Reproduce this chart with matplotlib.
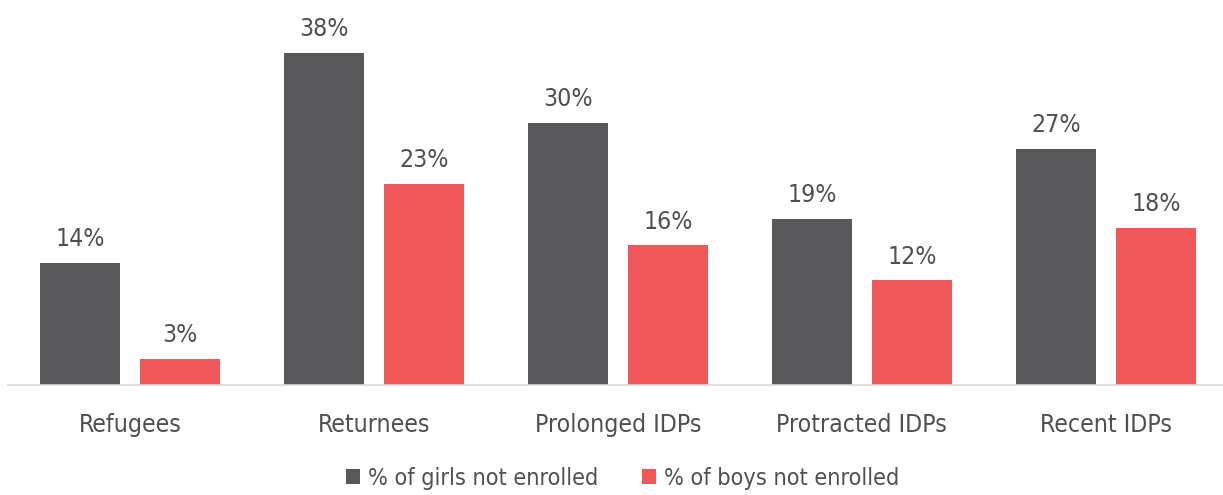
import matplotlib
matplotlib.use('Agg')
import matplotlib.pyplot as plt
from matplotlib import font_manager
from matplotlib.font_manager import FontProperties
import numpy as np

categories = ['Refugees', 'Returnees', 'Prolonged IDPs', 'Protracted IDPs', 'Recent IDPs']
girls = [14, 38, 30, 19, 27]
boys = [3, 23, 16, 12, 18]
series_names = ['% of girls not enrolled', '% of boys not enrolled']


def find_narrow():
    # look for a narrow / condensed regular face, Arial Narrow style
    cands = []
    for f in font_manager.fontManager.ttflist:
        if f.style != 'normal':
            continue
        if f.weight not in (400, 'normal', 'regular'):
            continue
        narrow = 'Narrow' in f.name or str(f.stretch) in ('condensed', 'semi-condensed', '75', '87.5')
        if narrow:
            rank = 0 if 'Liberation' in f.name else (1 if 'DejaVu' in f.name else 2)
            cands.append((rank, f.fname))
    cands.sort()
    return cands[0][1] if cands else None


path = find_narrow()
if path:
    fp = FontProperties(fname=path, size=17.8)
    fp_leg = FontProperties(fname=path, size=16.8)
else:
    fp = FontProperties(family=['Liberation Sans', 'DejaVu Sans'], size=15.5)
    fp_leg = FontProperties(family=['Liberation Sans', 'DejaVu Sans'], size=14.6)

grey = '#58585A'
red = '#EF5759'
text_col = '#505050'

fig = plt.figure(figsize=(12.23, 4.95), dpi=100)
ax = fig.add_axes([8 / 1223, 110 / 495, 1215 / 1223, 350 / 495])

x = np.arange(len(categories))
w = 0.328
off = 0.205
b1 = ax.bar(x - off, girls, w, color=grey, label=series_names[0])
b2 = ax.bar(x + off, boys, w, color=red, label=series_names[1])

for bars, vals in ((b1, girls), (b2, boys)):
    for r, v in zip(bars, vals):
        ax.text(r.get_x() + r.get_width() / 2, v + 1.3, f'{v}%', ha='center', va='bottom',
                fontproperties=fp, color=text_col, clip_on=False)

ax.set_xlim(-0.5, 4.48)
ax.set_ylim(0, 40)
ax.set_xticks(x)
ax.set_xticklabels(categories, fontproperties=fp, color=text_col)
ax.tick_params(axis='x', length=0, pad=20)
ax.set_yticks([])
for s in ['top', 'right', 'left']:
    ax.spines[s].set_visible(False)
ax.spines['bottom'].set_color('#D9D9D9')
ax.spines['bottom'].set_linewidth(1.2)

leg = fig.legend(loc='center', bbox_to_anchor=(0.509, 0.034), ncol=2, frameon=False,
                 prop=fp_leg, handlelength=0.6, handleheight=0.6, handletextpad=0.34,
                 columnspacing=1.9)
for t in leg.get_texts():
    t.set_color(text_col)

fig.savefig('out.png', dpi=100)
